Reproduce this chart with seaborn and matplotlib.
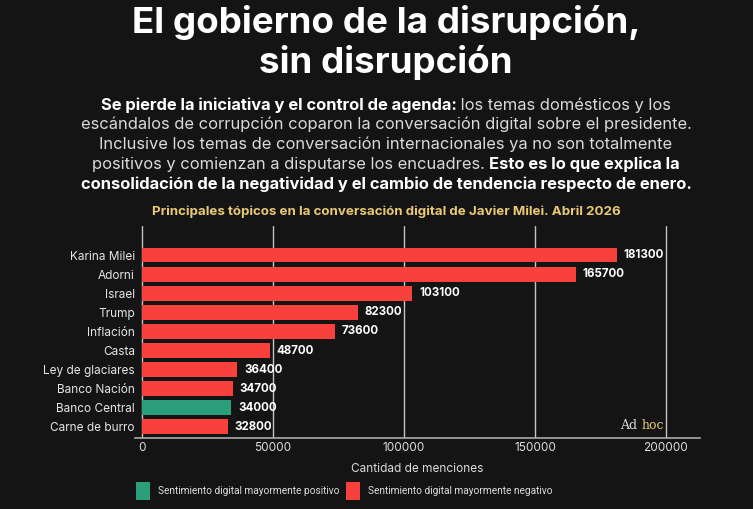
import matplotlib
matplotlib.use("Agg")
import matplotlib.pyplot as plt
import seaborn as sns
import pandas as pd
from matplotlib.patches import Rectangle

topics = ["Karina Milei", "Adorni", "Israel", "Trump", "Inflación", "Casta",
          "Ley de glaciares", "Banco Nación", "Banco Central", "Carne de burro"]
mentions = [181300, 165700, 103100, 82300, 73600, 48700, 36400, 34700, 34000, 32800]
sentiment = ["neg", "neg", "neg", "neg", "neg", "neg", "neg", "neg", "pos", "neg"]
xticks = [0, 50000, 100000, 150000, 200000]
legend_labels = ["Sentimiento digital mayormente positivo",
                 "Sentimiento digital mayormente negativo"]

BG = "#141414"
RED = "#F8413C"
GREEN = "#2B9E7B"
GOLD = "#E9C974"
FONT = "Inter"
CX = 386 / 753

sns.set_theme(style="dark")
plt.rcParams["font.family"] = [FONT, "DejaVu Sans"]

df = pd.DataFrame({"topic": topics, "mentions": mentions, "sent": sentiment})

fig = plt.figure(figsize=(7.53, 5.09), dpi=100, facecolor=BG)
ax = fig.add_axes([135/753, 1-438/509, (700-135)/753, (438-226)/509])
ax.set_facecolor(BG)

sns.barplot(data=df, x="mentions", y="topic", hue="sent", dodge=False,
            palette={"neg": RED, "pos": GREEN}, width=0.78, ax=ax,
            legend=False, saturation=1, zorder=3, linewidth=0, edgecolor="none")

ax.set_xlim(-2700, 213000)
ax.set_ylim(9.58, -1.52)
ax.set_xticks(xticks)
ax.set_xticklabels([str(t) for t in xticks], color="#DDDDDD", fontsize=8.5)
ax.tick_params(axis="y", colors="#E6E6E6", labelsize=8.5, length=0, pad=0)
ax.tick_params(axis="x", length=0, pad=3)
ax.set_ylabel("")
ax.set_xlabel("Cantidad de menciones", color="#DDDDDD", fontsize=8.5, labelpad=6)
ax.grid(False)
for t in xticks:
    ax.axvline(t, color="#C4C4C4", lw=1, zorder=1)
for s in ["top", "right", "left"]:
    ax.spines[s].set_visible(False)
ax.spines["bottom"].set_color("#AAAAAA")
ax.spines["bottom"].set_linewidth(1.2)

for i, v in enumerate(mentions):
    ax.text(v + 2600, i, str(v), va="center", ha="left", color="white",
            fontsize=8.3, fontweight="bold", zorder=4)

# Ad hoc watermark
ax.text(0.896, 0.03, "Ad ", transform=ax.transAxes, ha="right", va="bottom",
        family="DejaVu Serif", fontsize=9, color="#DDDDDD")
ax.text(0.896, 0.03, "hoc", transform=ax.transAxes, ha="left", va="bottom",
        family="DejaVu Serif", fontsize=9, color=GOLD)

# Titles
fig.text(CX, 1-23/509, "El gobierno de la disrupción,", ha="center", va="center",
         color="white", fontsize=26.5, fontweight="bold")
fig.text(CX, 1-62/509, "sin disrupción", ha="center", va="center",
         color="white", fontsize=26.5, fontweight="bold")

# Subtitle with mixed bold
lines = [
    [("Se pierde la iniciativa y el control de agenda:", "bold"), (" los temas domésticos y los", "normal")],
    [("escándalos de corrupción coparon la conversación digital sobre el presidente.", "normal")],
    [("Inclusive los temas de conversación internacionales ya no son totalmente", "normal")],
    [("positivos y comienzan a disputarse los encuadres. ", "normal"), ("Esto es lo que explica la", "bold")],
    [("consolidación de la negatividad y el cambio de tendencia respecto de enero.", "bold")],
]
ys = [105, 124.5, 144, 164, 184]
fig.canvas.draw()
renderer = fig.canvas.get_renderer()
W = fig.bbox.width
for segs, ypx in zip(lines, ys):
    objs = []
    for txt, w in segs:
        col = "white" if w == "bold" else "#DADADA"
        o = fig.text(0, 1-ypx/509, txt, ha="left", va="center", color=col,
                     fontsize=11.9, fontweight=w)
        objs.append(o)
    widths = [o.get_window_extent(renderer).width for o in objs]
    total = sum(widths)
    x = CX * W - total / 2
    for o, wd in zip(objs, widths):
        o.set_x(x / W)
        x += wd

fig.text(CX, 1-212/509,
         "Principales tópicos en la conversación digital de Javier Milei. Abril 2026",
         ha="center", va="center", color=GOLD, fontsize=9.6, fontweight="bold")

# Legend (manual)
H = 509
for (x0, xt), col, lab in zip([(136, 158), (346, 368)], [GREEN, RED], legend_labels):
    fig.patches.append(Rectangle((x0/753, 1-500/H), 14/753, 18/H,
                                 transform=fig.transFigure, facecolor=col,
                                 edgecolor="none"))
    fig.text(xt/753, 1-491/H, lab, ha="left", va="center", color="#DDDDDD",
             fontsize=7.3, family=["Roboto", "DejaVu Sans"])

fig.savefig("out.png", dpi=100, facecolor=BG)
